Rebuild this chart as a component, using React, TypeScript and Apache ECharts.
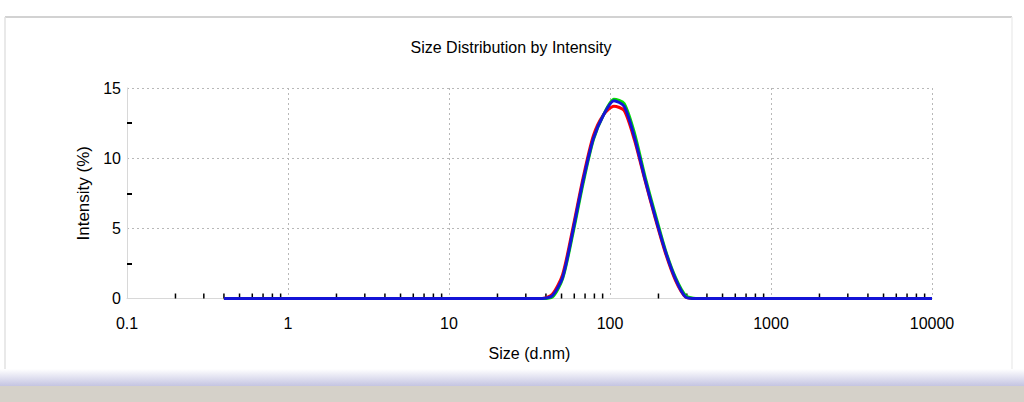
import React, { useEffect, useRef } from "react";
import * as echarts from "echarts";

const sizes = [
  0.4, 0.4632, 0.5365, 0.6213, 0.7195, 0.8332, 0.965, 1.117, 1.294, 1.499,
  1.736, 2.01, 2.328, 2.696, 3.122, 3.615, 4.187, 4.849, 5.615, 6.503,
  7.531, 8.721, 10.1, 11.7, 13.54, 15.69, 18.17, 21.04, 24.36, 28.21,
  32.67, 37.84, 43.82, 50.75, 58.77, 68.06, 78.82, 91.28, 105.7, 122.4,
  141.8, 164.2, 190.1, 220.2, 255.0, 295.3, 342.0, 396.1, 458.7, 531.2,
  615.1, 712.4, 825.0, 955.4, 1106, 1281, 1484, 1718, 1990, 2305,
  2669, 3091, 3580, 4145, 4801, 5560, 6439, 7456, 8635, 10000,
];

const record1 = [
  0, 0, 0, 0, 0, 0, 0, 0, 0, 0,
  0, 0, 0, 0, 0, 0, 0, 0, 0, 0,
  0, 0, 0, 0, 0, 0, 0, 0, 0, 0,
  0, 0, 0.3, 1.7, 5.0, 8.6, 11.6, 13.1, 13.7, 13.4,
  11.3, 8.5, 5.8, 3.3, 1.3, 0.1, 0, 0, 0, 0,
  0, 0, 0, 0, 0, 0, 0, 0, 0, 0,
  0, 0, 0, 0, 0, 0, 0, 0, 0, 0,
];

const record2 = [
  0, 0, 0, 0, 0, 0, 0, 0, 0, 0,
  0, 0, 0, 0, 0, 0, 0, 0, 0, 0,
  0, 0, 0, 0, 0, 0, 0, 0, 0, 0,
  0, 0, 0.1, 1.4, 4.6, 8.2, 11.3, 13.1, 14.2, 13.9,
  11.8, 8.8, 6.1, 3.5, 1.5, 0.2, 0, 0, 0, 0,
  0, 0, 0, 0, 0, 0, 0, 0, 0, 0,
  0, 0, 0, 0, 0, 0, 0, 0, 0, 0,
];

const record3 = [
  0, 0, 0, 0, 0, 0, 0, 0, 0, 0,
  0, 0, 0, 0, 0, 0, 0, 0, 0, 0,
  0, 0, 0, 0, 0, 0, 0, 0, 0, 0,
  0, 0, 0.2, 1.5, 4.8, 8.4, 11.4, 13.1, 14.1, 13.7,
  11.5, 8.6, 5.9, 3.4, 1.4, 0.1, 0, 0, 0, 0,
  0, 0, 0, 0, 0, 0, 0, 0, 0, 0,
  0, 0, 0, 0, 0, 0, 0, 0, 0, 0,
];

const xMinorTicks = [
  0.2, 0.3, 0.4, 0.5, 0.6, 0.7, 0.8, 0.9,
  2, 3, 4, 5, 6, 7, 8, 9,
  20, 30, 40, 50, 60, 70, 80, 90,
  200, 300, 400, 500, 600, 700, 800, 900,
  2000, 3000, 4000, 5000, 6000, 7000, 8000, 9000,
];

const titleText = "Size Distribution by Intensity";
const xName = "Size (d.nm)";
const yName = "Intensity (%)";
const FONT = "Liberation Sans, Arial, sans-serif";

export default function App() {
  const ref = useRef<HTMLDivElement>(null);
  useEffect(() => {
    if (!ref.current) return;
    const chart = echarts.init(ref.current, null, { renderer: "svg" });
    const pair = (arr: number[]) => sizes.map((s, i) => [s, arr[i]]);
    const lineSeries = (name: string, arr: number[], color: string, z: number) => ({
      name,
      type: "line",
      data: pair(arr),
      showSymbol: false,
      symbol: "none",
      smooth: 0.25,
      z,
      lineStyle: { color, width: 3 },
      itemStyle: { color },
    });
    chart.setOption({
      animation: false,
      backgroundColor: "#ffffff",
      title: {
        text: titleText,
        left: 506,
        top: 34,
        textAlign: "center",
        textStyle: { fontFamily: FONT, fontSize: 16, fontWeight: "normal", color: "#000" },
      },
      grid: { left: 127, right: 92, top: 88, bottom: 103.5, containLabel: false },
      xAxis: {
        type: "log",
        logBase: 10,
        min: 0.1,
        max: 10000,
        name: xName,
        nameLocation: "middle",
        nameGap: 47,
        nameTextStyle: { fontFamily: FONT, fontSize: 16, color: "#000" },
        axisLine: { show: true, lineStyle: { color: "#d8d8d8", width: 1 } },
        axisTick: { show: false },
        axisLabel: {
          fontFamily: FONT,
          fontSize: 16,
          color: "#000",
          margin: 17,
          formatter: (v: number) => String(v),
        },
        splitLine: { show: true, lineStyle: { color: "#b8b8b8", type: [2, 3], width: 1 } },
      },
      yAxis: {
        type: "value",
        min: 0,
        max: 15,
        interval: 5,
        name: yName,
        nameLocation: "middle",
        nameGap: 33,
        nameTextStyle: { fontFamily: FONT, fontSize: 17, color: "#000" },
        axisLine: { show: true, lineStyle: { color: "#d8d8d8", width: 1 } },
        axisTick: { show: true, inside: true, length: 5, lineStyle: { color: "rgba(0,0,0,0)" } },
        minorTick: { show: true, splitNumber: 2, length: 5, lineStyle: { color: "#000", width: 2 } },
        axisLabel: { fontFamily: FONT, fontSize: 16, color: "#000", margin: 6 },
        splitLine: { show: true, lineStyle: { color: "#b8b8b8", type: [2, 3], width: 1 } },
      },
      graphic: [
        { type: "line", z: 100, shape: { x1: 5, y1: 17, x2: 1012, y2: 17 }, style: { stroke: "#d2d2d2", lineWidth: 2 } },
        { type: "line", z: 100, shape: { x1: 5, y1: 17, x2: 5, y2: 374 }, style: { stroke: "#e2e2e2", lineWidth: 1.5 } },
        { type: "line", z: 100, shape: { x1: 1012, y1: 17, x2: 1012, y2: 374 }, style: { stroke: "#eeeeee", lineWidth: 1.5 } },
        {
          type: "rect",
          z: 100,
          shape: { x: 0, y: 369, width: 1024, height: 17 },
          style: {
            fill: new echarts.graphic.LinearGradient(0, 0, 0, 1, [
              { offset: 0, color: "#ffffff" },
              { offset: 1, color: "#c4c4e2" },
            ]),
          },
        },
        { type: "rect", z: 100, shape: { x: 0, y: 386, width: 1024, height: 16 }, style: { fill: "#d5d1c9" } },
      ],
      series: [
        {
          type: "custom",
          name: "minor",
          z: 1,
          data: xMinorTicks.map((v) => [v, 0]),
          renderItem: (params: any, api: any) => {
            const p = api.coord([api.value(0), 0]);
            return {
              type: "line",
              shape: { x1: p[0], y1: p[1], x2: p[0], y2: p[1] - 5 },
              style: { stroke: "#000", lineWidth: 1.5 },
            };
          },
          silent: true,
        },
        lineSeries("Record 1", record1, "#ff0000", 2),
        lineSeries("Record 2", record2, "#00dd00", 3),
        lineSeries("Record 3", record3, "#1414d6", 4),
      ],
    });
    return () => chart.dispose();
  }, []);
  return (
    <div
      ref={ref}
      style={{ position: "absolute", left: 0, top: 0, width: 1024, height: 402 }}
    />
  );
}
